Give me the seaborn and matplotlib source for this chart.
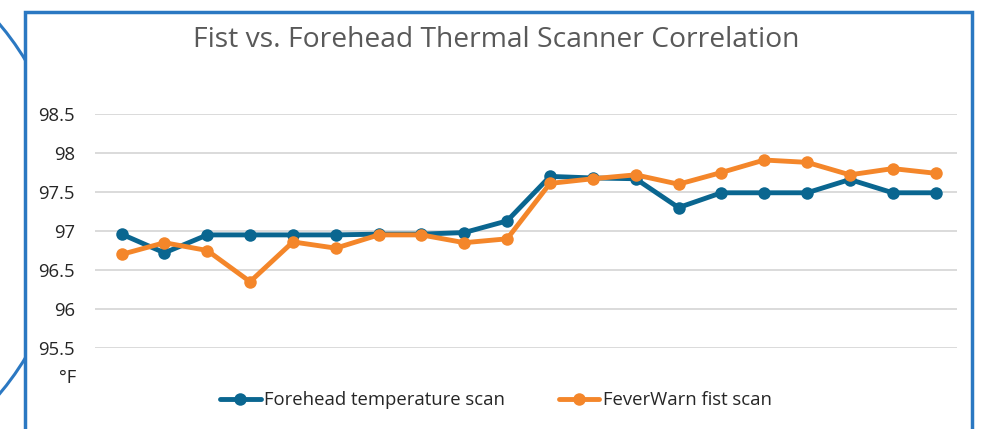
"""Fist vs. forehead thermal scanner correlation line chart."""
import matplotlib
matplotlib.use("Agg")
import matplotlib.pyplot as plt
from matplotlib.patches import Ellipse, Rectangle
from matplotlib.ticker import FuncFormatter
import pandas as pd
import seaborn as sns

# readings, one per subject (deg F)
subjects = list(range(1, 21))
forehead = [96.96, 96.72, 96.95, 96.95, 96.95, 96.95, 96.96, 96.96, 96.98, 97.13,
            97.70, 97.68, 97.67, 97.30, 97.49, 97.49, 97.49, 97.66, 97.49, 97.49]
fist = [96.70, 96.85, 96.75, 96.35, 96.86, 96.78, 96.95, 96.95, 96.85, 96.90,
        97.61, 97.67, 97.72, 97.60, 97.75, 97.91, 97.88, 97.72, 97.80, 97.74]
series_names = ["Forehead temperature scan", "FeverWarn fist scan"]
y_ticks = [95.5, 96, 96.5, 97, 97.5, 98, 98.5]

BLUE = "#0a6690"
ORANGE = "#f4862a"
FRAME = "#2b78c2"
TXT = "#262626"

df = pd.concat([
    pd.DataFrame({"subject": subjects, "temp": forehead, "series": series_names[0]}),
    pd.DataFrame({"subject": subjects, "temp": fist, "series": series_names[1]}),
])

sns.set_theme(style="white")
plt.rcParams["font.family"] = ["Open Sans", "DejaVu Sans"]

W, H = 988, 429
fig = plt.figure(figsize=(W / 100, H / 100), dpi=100)

# decorative circle behind the card, then the card frame
fig.add_artist(Ellipse((-220 / W, 1 - 209 / H), 2 * 287 / W, 2 * 287 / H,
                       transform=fig.transFigure, fill=False, lw=2.2,
                       ec=FRAME, zorder=0))
fig.add_artist(Rectangle((25 / W, -0.05), (972 - 25) / W, 1 - 12 / H + 0.05,
                         transform=fig.transFigure, fc="white", ec=FRAME,
                         lw=2.5, zorder=1))

ax = fig.add_axes([95 / W, 1 - 348 / H, (957 - 95) / W, (348 - 114) / H])
ax.set_zorder(2)
ax.patch.set_alpha(0)

sns.lineplot(data=df, x="subject", y="temp", hue="series",
             palette=[BLUE, ORANGE], marker="o", markersize=9,
             markeredgewidth=0, linewidth=3.5, ax=ax, legend=False)

ax.set_xlim(0.38, 20.5)
ax.set_ylim(95.5, 98.5)
ax.set_yticks(y_ticks)
ax.yaxis.set_major_formatter(FuncFormatter(lambda v, _: f"{v:g}"))
ax.set_xticks([])
ax.grid(axis="y", color="#d4d4d4", lw=1.2)
ax.set_axisbelow(True)
ax.tick_params(axis="y", length=0, pad=14.4, labelsize=13.3, labelcolor=TXT)
for s in ax.spines.values():
    s.set_visible(False)
ax.set_xlabel("")
ax.set_ylabel("")

fig.text(76 / W, 1 - 378 / H, "°F", ha="right", va="center",
         fontsize=13.3, color=TXT, zorder=3)
fig.text(496 / W, 1 - 40 / H, "Fist vs. Forehead Thermal Scanner Correlation",
         ha="center", va="center", fontsize=20.3, color="#595959", zorder=3)

handles = [plt.Line2D([], [], color=c, lw=3.5, marker="o", markersize=9,
                      markeredgewidth=0) for c in (BLUE, ORANGE)]
fig.legend(handles, series_names, loc="center", bbox_to_anchor=(496 / W, 1 - 400 / H),
           ncol=2, frameon=False, fontsize=13.3, handlelength=2.2,
           handletextpad=0.2, columnspacing=2.9, labelcolor=TXT)

fig.savefig("out.png", dpi=100)
